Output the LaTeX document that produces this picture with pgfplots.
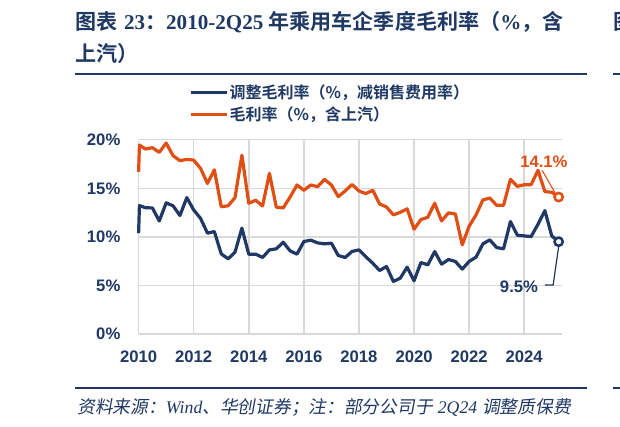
\documentclass[border=0pt]{standalone}
\usepackage{pgfplots}
\pgfplotsset{compat=1.18}
\usepackage{fontspec}
\setmainfont{Liberation Sans}
\newfontfamily\cjk{Noto Sans CJK SC}
\newfontfamily\cjkb{Noto Sans CJK SC Bold}
\newfontfamily\cjkit{Noto Sans CJK SC}[FakeSlant=0.18]
\newfontfamily\tnr{Liberation Serif}
\definecolor{navy}{RGB}{31,56,100}
\definecolor{hcorange}{RGB}{224,78,20}
\definecolor{gridgray}{RGB}{217,217,217}

\begin{document}
\begin{tikzpicture}[x=0.75pt,y=0.75pt]
\useasboundingbox (0,0) rectangle (620,426);
\fill[white] (0,0) rectangle (620,426);

% title block
\node[anchor=west, inner sep=0pt, text=navy] at (75,404)
  {\fontsize{15.8}{18}\selectfont{\cjkb 图表}\hspace{5pt}{\tnr\bfseries 23}{\cjkb ：}{\tnr\bfseries 2010-2Q25 }{\cjkb 年乘用车企季度毛利率（}{\tnr\bfseries\%}{\cjkb ，含}};
\node[anchor=west, inner sep=0pt, text=navy] at (75,373)
  {\fontsize{15.8}{18}\selectfont\cjkb 上汽）};
\node[anchor=west, inner sep=0pt, text=navy] at (613,404)
  {\fontsize{15.8}{18}\selectfont\cjkb 图};
\draw[navy, line width=1.5pt] (75,352) -- (587,352);
\draw[navy, line width=1.5pt] (613,352) -- (620,352);

% source block
\draw[navy, line width=1.5pt] (75,38) -- (587,38);
\draw[navy, line width=1.5pt] (613,38) -- (620,38);
\node[anchor=west, inner sep=0pt, text=navy] at (77,19)
  {\fontsize{13.3}{15}\selectfont{\cjkit 资料来源：}{\tnr\itshape Wind}{\cjkit 、华创证券；注：部分公司于}\ {\tnr\itshape 2Q24}\ {\cjkit 调整质保费}};

\begin{axis}[
    at={(103.95pt,69pt)}, anchor=south west,
    scale only axis, width=317.3pt, height=145.7pt,
    xmin=2010, xmax=2025.36, ymin=0, ymax=20,
    xtick={2010,2012,...,2024},
    xticklabels={2010,2012,2014,2016,2018,2020,2022,2024},
    ytick={0,5,10,15,20},
    yticklabels={0\%,5\%,10\%,15\%,20\%},
    grid=major,
    major grid style={gridgray, line width=1.1pt},
    axis line style={draw=none},
    major tick length=0pt, tick style={draw=none},
    ticklabel style={font=\bfseries\fontsize{12.5}{14}\selectfont, text=navy, inner sep=0pt},
    yticklabel style={anchor=east, xshift=-13.5pt},
    xticklabel style={anchor=north, yshift=-12.75pt},
    clip=false,
    legend style={at={(0.119,1.292)}, anchor=north west, draw=none, fill=none,
      inner sep=0pt, row sep=3pt, font=\cjkb\fontsize{12}{14}\selectfont,
      text=navy, nodes={inner sep=1pt}},
    legend cell align=left,
    legend image code/.code={\draw[#1, line width=2.3pt] (0pt,0pt) -- (27pt,0pt);},
  ]
  % adjusted gross margin (less selling expense ratio)
  \addplot[navy, line width=2.4pt, line join=round] coordinates {
    (2010,10.38) (2010.03,13.22) (2010.25,13.0) (2010.5,12.98) (2010.75,11.64)
    (2011,13.5) (2011.25,13.2) (2011.5,12.2) (2011.75,14.04)
    (2012,12.77) (2012.25,11.9) (2012.5,10.38) (2012.75,10.55)
    (2013,8.25) (2013.25,7.74) (2013.5,8.42) (2013.75,10.9)
    (2014,8.22) (2014.25,8.22) (2014.5,7.88) (2014.75,8.66)
    (2015,8.77) (2015.25,9.45) (2015.5,8.56) (2015.75,8.22)
    (2016,9.52) (2016.25,9.66) (2016.5,9.38) (2016.75,9.28)
    (2017,9.35) (2017.25,8.08) (2017.5,7.88) (2017.75,8.5)
    (2018,8.66) (2018.25,7.95) (2018.5,7.29) (2018.75,6.54)
    (2019,6.95) (2019.25,5.41) (2019.5,5.75) (2019.75,6.88)
    (2020,5.48) (2020.25,7.36) (2020.5,7.12) (2020.75,8.49)
    (2021,7.19) (2021.25,7.67) (2021.5,7.47) (2021.75,6.68)
    (2022,7.47) (2022.25,7.91) (2022.5,9.28) (2022.75,9.69)
    (2023,8.9) (2023.25,8.77) (2023.5,11.58) (2023.75,10.17)
    (2024,10.1) (2024.25,10.03) (2024.5,11.3) (2024.75,12.7)
    (2025,10.1) (2025.25,9.5)
  };
  \addlegendentry{调整毛利率（\%，减销售费用率）}
  % gross margin incl. SAIC
  \addplot[hcorange, line width=2.4pt, line join=round] coordinates {
    (2010,16.7) (2010.03,19.45) (2010.25,19.04) (2010.5,19.18) (2010.75,18.7)
    (2011,19.66) (2011.25,18.36) (2011.5,17.84) (2011.75,17.98)
    (2012,17.9) (2012.25,17.05) (2012.5,15.5) (2012.75,16.9)
    (2013,13.1) (2013.25,13.2) (2013.5,14.04) (2013.75,18.4)
    (2014,13.46) (2014.25,13.77) (2014.5,13.18) (2014.75,16.54)
    (2015,13.05) (2015.25,12.98) (2015.5,14.1) (2015.75,15.34)
    (2016,14.8) (2016.25,15.34) (2016.5,15.17) (2016.75,15.92)
    (2017,15.34) (2017.25,14.14) (2017.5,14.73) (2017.75,15.4)
    (2018,14.73) (2018.25,14.45) (2018.5,14.8) (2018.75,13.39)
    (2019,13.08) (2019.25,12.26) (2019.5,12.53) (2019.75,12.88)
    (2020,10.79) (2020.25,11.78) (2020.5,12.02) (2020.75,13.46)
    (2021,11.64) (2021.25,12.47) (2021.5,12.36) (2021.75,9.18)
    (2022,11.1) (2022.25,12.26) (2022.5,13.8) (2022.75,14.0)
    (2023,13.25) (2023.25,13.25) (2023.5,15.92) (2023.75,15.2)
    (2024,15.37) (2024.25,15.37) (2024.5,16.85) (2024.75,14.66)
    (2025,14.59) (2025.25,14.1)
  };
  \addlegendentry{毛利率（\%，含上汽）}

  % data labels with leader lines
  \draw[hcorange, line width=0.8pt] (axis cs:2024.65,16.85) -- (axis cs:2025.16,14.33);
  \draw[navy, line width=0.9pt] (axis cs:2025.25,9.0) -- (axis cs:2025.05,5.04) -- (axis cs:2024.75,5.04);
  \node[text=hcorange, font=\bfseries\fontsize{12.5}{14}\selectfont] at (axis cs:2024.715,17.7) {14.1\%};
  \node[text=navy, font=\bfseries\fontsize{12.5}{14}\selectfont] at (axis cs:2023.81,4.84) {9.5\%};

  \addplot[forget plot, only marks, mark=*, mark size=3.1pt,
    mark options={fill=white, draw=hcorange, line width=1.9pt}] coordinates {(2025.25,14.1)};
  \addplot[forget plot, only marks, mark=*, mark size=3.1pt,
    mark options={fill=white, draw=navy, line width=1.9pt}] coordinates {(2025.25,9.5)};
\end{axis}
\end{tikzpicture}
\end{document}
